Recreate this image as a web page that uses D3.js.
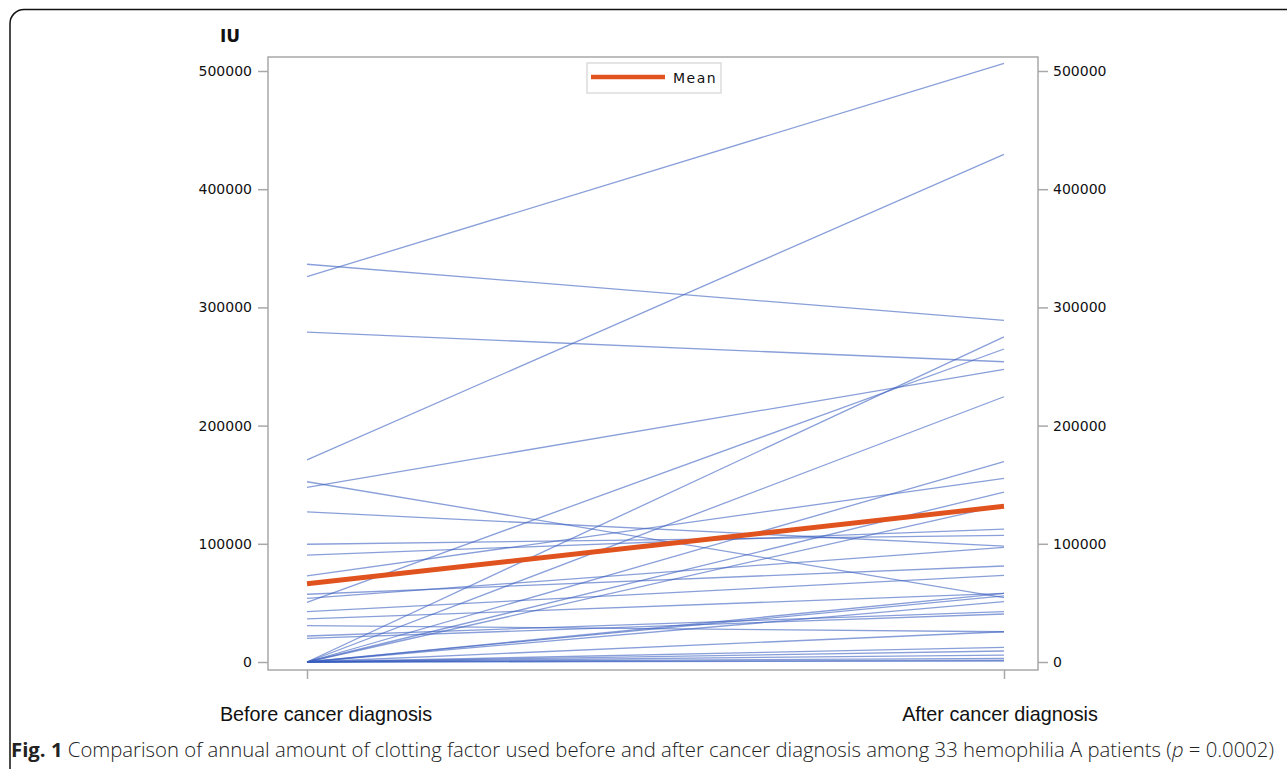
<!DOCTYPE html>
<html>
<head>
<meta charset="utf-8">
<script src="https://cdn.jsdelivr.net/npm/d3@7"></script>
<style>
  body { margin: 0; background: #fff; }
  svg { display: block; }
</style>
</head>
<body>
<div id="chart"></div>
<script>
// Categories on the x axis
const periods = ["Before cancer diagnosis", "After cancer diagnosis"];

// Per-patient annual clotting factor (IU)
const beforeValues = [326000, 336500, 279000, 171000, 147800, 152500, 127000, 99600, 90500, 50500,
    0, 0, 72800, 57300, 53900, 42600, 36400, 30700, 22000, 20000,
    0, 0, 0, 0, 0, 0, 0, 0, 0, 0, 0, 0, 0];
const afterValues = [506500, 289000, 254000, 429500, 247600, 54500, 98000, 107200, 112500, 264800,
    275000, 224400, 155400, 81200, 97000, 73300, 58000, 25600, 42600, 40600,
    169500, 143800, 133000, 56000, 51000, 25600, 12400, 9300, 5900, 3100, 800, 58000, 1500];

// Mean line
const meanValues = [66200, 131700];

const yTicks = [0, 100000, 200000, 300000, 400000, 500000];

const width = 1287, height = 769;
const frame = { left: 268, right: 1038, top: 57, bottom: 670 };

const svg = d3.select("#chart").append("svg")
    .attr("width", width)
    .attr("height", height);

// outer rounded border
svg.append("rect")
    .attr("x", 10).attr("y", 9.5)
    .attr("width", 1300).attr("height", 790)
    .attr("rx", 14)
    .attr("fill", "none")
    .attr("stroke", "#111")
    .attr("stroke-width", 1.5);

const x = d3.scalePoint().domain(periods).range([307, 1004]);
const y = d3.scaleLinear().domain([0, 500000]).range([662, 71]);

// plot frame
svg.append("rect")
    .attr("x", frame.left).attr("y", frame.top)
    .attr("width", frame.right - frame.left)
    .attr("height", frame.bottom - frame.top)
    .attr("fill", "none")
    .attr("stroke", "#a8a8a8")
    .attr("stroke-width", 1.5);

// axes
const leftAxis = svg.append("g")
    .attr("transform", `translate(${frame.left},0)`)
    .call(d3.axisLeft(y).tickValues(yTicks).tickFormat(d3.format("d")).tickSize(10).tickPadding(6));
const rightAxis = svg.append("g")
    .attr("transform", `translate(${frame.right},0)`)
    .call(d3.axisRight(y).tickValues(yTicks).tickFormat(d3.format("d")).tickSize(10).tickPadding(5));
const bottomAxis = svg.append("g")
    .attr("transform", `translate(0,${frame.bottom})`)
    .call(d3.axisBottom(x).tickSize(9).tickFormat(""));

[leftAxis, rightAxis, bottomAxis].forEach(a => {
    a.select(".domain").remove();
    a.selectAll(".tick line").attr("stroke", "#a8a8a8").attr("stroke-width", 1.5);
    a.selectAll(".tick text")
        .attr("fill", "#111")
        .style("font-family", "DejaVu Sans, sans-serif")
        .style("font-size", "14px");
});

// x category labels
svg.append("g").selectAll("text")
    .data(periods)
    .join("text")
    .attr("x", (d, i) => x(d) + (i === 0 ? 19 : -4))
    .attr("y", 721)
    .attr("text-anchor", "middle")
    .style("font-family", "Liberation Sans, Arial, sans-serif")
    .style("font-size", "19.8px")
    .attr("fill", "#111")
    .text(d => d);

// y unit label
svg.append("text")
    .attr("x", 230).attr("y", 42)
    .attr("text-anchor", "middle")
    .style("font-family", "DejaVu Sans, sans-serif")
    .style("font-size", "17px")
    .style("font-weight", "bold")
    .attr("fill", "#111")
    .text("IU");

// patient lines
const patients = beforeValues.map((b, i) => [b, afterValues[i]]);
const line = d3.line()
    .x((d, i) => x(periods[i]))
    .y(d => y(d));

svg.append("g").selectAll("path")
    .data(patients)
    .join("path")
    .attr("d", line)
    .attr("fill", "none")
    .attr("stroke", "#3a5fc0")
    .attr("stroke-opacity", 0.6)
    .attr("stroke-width", 1.3);

// mean line
svg.append("path")
    .datum(meanValues)
    .attr("d", line)
    .attr("fill", "none")
    .attr("stroke", "#e0531f")
    .attr("stroke-width", 5);

// legend
const legend = svg.append("g").attr("transform", "translate(587,63)");
legend.append("rect")
    .attr("width", 134).attr("height", 30)
    .attr("fill", "#fff")
    .attr("stroke", "#dcdcdc")
    .attr("stroke-width", 1.5);
legend.append("line")
    .attr("x1", 4).attr("x2", 78)
    .attr("y1", 14).attr("y2", 14)
    .attr("stroke", "#e0531f")
    .attr("stroke-width", 4.5);
legend.append("text")
    .attr("x", 86).attr("y", 20)
    .style("font-family", "DejaVu Sans, sans-serif")
    .style("font-size", "14px")
    .style("letter-spacing", "1.5px")
    .attr("fill", "#111")
    .text("Mean");

// caption
const caption = svg.append("text")
    .attr("x", 11).attr("y", 757)
    .attr("textLength", 1263)
    .attr("lengthAdjust", "spacingAndGlyphs")
    .style("font-family", "Open Sans, sans-serif")
    .style("font-size", "20px")
    .attr("fill", "#222");
caption.append("tspan").style("font-weight", "bold").text("Fig. 1");
caption.append("tspan").style("font-weight", "300")
    .text(" Comparison of annual amount of clotting factor used before and after cancer diagnosis among 33 hemophilia A patients (");
caption.append("tspan").style("font-style", "italic").style("font-weight", "300").text("p");
caption.append("tspan").style("font-weight", "300").text(" = 0.0002)");
</script>
</body>
</html>
